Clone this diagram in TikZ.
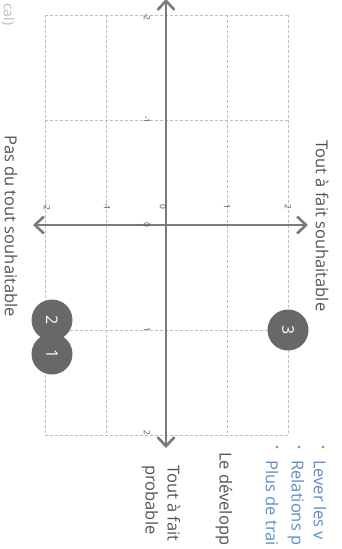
\documentclass[tikz,border=0pt]{standalone}
\usepackage{fontspec}
\setmainfont{Open Sans}
\usetikzlibrary{arrows.meta,positioning}
\definecolor{AxisGrey}{HTML}{7A7A7A}
\definecolor{GridGrey}{HTML}{BDBDBD}
\definecolor{LabelGrey}{HTML}{555555}
\definecolor{DotGrey}{HTML}{686868}
\definecolor{LinkBlue}{HTML}{5E8CC8}
\definecolor{BulletGrey}{HTML}{9A9A9A}
\tikzset{
  axisline/.style={draw=AxisGrey,line width=2.6pt,{Straight Barb[length=9pt,width=17pt]}-{Straight Barb[length=9pt,width=17pt]}},
  gridline/.style={draw=GridGrey,line width=.8pt,dash pattern=on 3pt off 2pt},
  ticklabel/.style={font=\fontsize{8.5}{10}\selectfont,text=LabelGrey,rotate=-90,inner sep=0pt},
  axislabel/.style={font=\fontsize{16.5}{22}\selectfont,text=LabelGrey,rotate=-90,inner sep=0pt,align=left},
  pointdot/.style={circle,fill=DotGrey,minimum size=41pt,inner sep=0pt,text=white,font=\fontsize{16}{18}\selectfont,rotate=-90},
  listitem/.style={font=\fontsize{16.5}{20}\selectfont,text=LinkBlue,rotate=-90,inner sep=0pt,anchor=west},
  bulletdot/.style={circle,fill=BulletGrey,inner sep=0pt,minimum size=3.4pt}
}

\begin{document}
\begin{tikzpicture}[x=1pt,y=-1pt]
  \useasboundingbox (0,0) rectangle (342,549);
  \clip (0,0) rectangle (342,549);
  % dashed grid, 4 x 4 cells
  \foreach \gx in {45,106,227,288}
    \draw[gridline] (\gx,15) -- (\gx,435);
  \foreach \gy in {15,120,330,435}
    \draw[gridline] (45,\gy) -- (288,\gy);
  % axes
  \coordinate (ptop) at (166,-1);
  \coordinate (pbot) at (166,448);
  \coordinate (sleft) at (33,225);
  \coordinate (sright) at (308,225);
  \draw[axisline] (ptop) -- (pbot);
  \draw[axisline] (sleft) -- (sright);
  % tick labels
  \foreach \v/\ty in {-2/17,-1/120,0/225,1/330,2/433}
    \node[ticklabel] (pt\v) at (147,\ty) {\v};
  \foreach \v/\tx in {-2/47,-1/107,0/163,1/227,2/288}
    \node[ticklabel] (st\v) at (\tx,207) {\v};
  % axis titles
  \node[axislabel] (souhait) at (322,226) {Tout à fait souhaitable};
  \node[axislabel] (passouhait) at (11,226) {Pas du tout souhaitable};
  \node[axislabel,anchor=west] (probable) at (161,465) {Tout à fait\\probable};
  % points
  \node[pointdot] (p3) at (288,330) {3};
  \node[pointdot] (p1) at (52,354) {1};
  \node[pointdot] (p2) at (52,320) {2};
  % neighbouring column, cut off by the frame
  \node[listitem,text=LabelGrey] (dev) at (224,452) {Le développ};
  \node[bulletdot] (b1) at (323,447) {};
  \node[bulletdot] (b2) at (299,447) {};
  \node[bulletdot] (b3) at (277,447) {};
  \node[listitem] (l1) at (320,460) {Lever les v};
  \node[listitem] (l2) at (296,460) {Relations p};
  \node[listitem] (l3) at (272,460) {Plus de trai};
  \node[listitem,text=GridGrey,font=\fontsize{14}{16}\selectfont] (cut) at (8,3) {cal)};
\end{tikzpicture}
\end{document}
